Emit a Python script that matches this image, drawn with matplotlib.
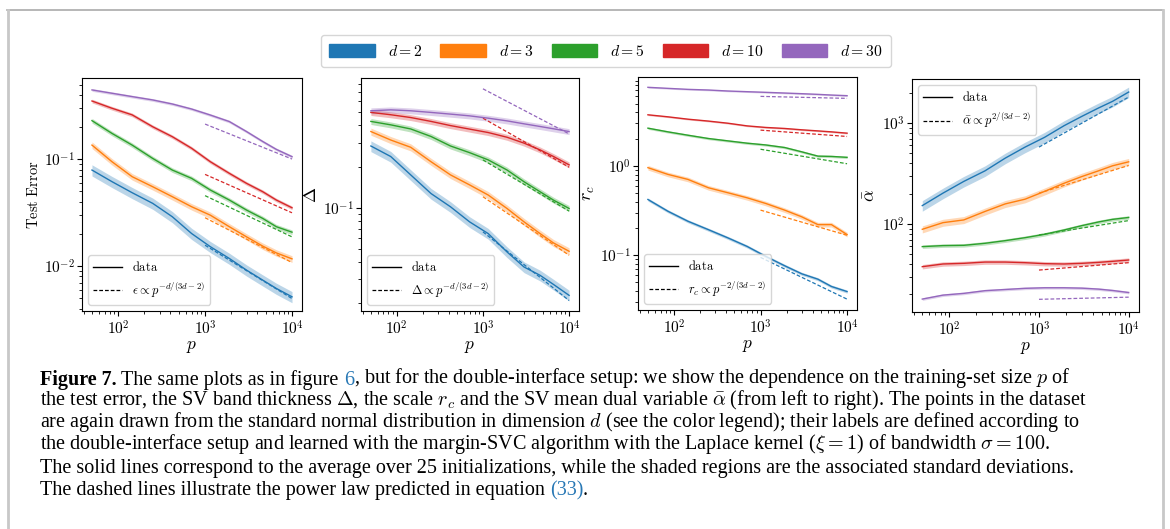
import numpy as np
import matplotlib.pyplot as plt
from matplotlib.lines import Line2D
from matplotlib.patches import Patch
from matplotlib.ticker import FuncFormatter, NullFormatter

plt.rcParams['mathtext.fontset'] = 'cm'
plt.rcParams['axes.unicode_minus'] = False

###############################################################################
# DATA
###############################################################################

p = [50, 85, 145, 250, 420, 700, 1150, 1900, 3000, 4600, 6600, 10000]
p_fit = [1000, 10000]
dims = [2, 3, 5, 10, 30]
colors = ['#1f77b4', '#ff7f0e', '#2ca02c', '#d62728', '#9467bd']

# test error, one row per d
test_error = [
    [0.0794, 0.0618, 0.0487, 0.0387, 0.029, 0.0202, 0.0152, 0.0118, 0.00917, 0.0074, 0.00618, 0.00516],
    [0.136, 0.095, 0.0688, 0.0554, 0.0447, 0.036, 0.030, 0.0234, 0.0188, 0.0154, 0.0133, 0.0117],
    [0.2304, 0.175, 0.136, 0.102, 0.0794, 0.0664, 0.0516, 0.0416, 0.0335, 0.028, 0.0234, 0.0208],
    [0.352, 0.301, 0.261, 0.202, 0.163, 0.127, 0.095, 0.074, 0.0596, 0.0498, 0.0416, 0.0352],
    [0.447, 0.416, 0.387, 0.360, 0.330, 0.296, 0.260, 0.226, 0.182, 0.147, 0.124, 0.106],
]
test_error_std = [0.12, 0.07, 0.05, 0.04, 0.03]
test_error_fit = [[0.0157, 0.00497], [0.0284, 0.0108], [0.0457, 0.0188], [0.0723, 0.0316], [0.214, 0.1007]]

# SV band thickness
delta = [
    [0.283, 0.237, 0.174, 0.127, 0.1017, 0.0789, 0.0648, 0.0476, 0.0369, 0.0321, 0.0275, 0.0229],
    [0.361, 0.313, 0.277, 0.217, 0.174, 0.147, 0.124, 0.0989, 0.0789, 0.0648, 0.0553, 0.0481],
    [0.428, 0.404, 0.377, 0.332, 0.283, 0.253, 0.224, 0.189, 0.155, 0.131, 0.1137, 0.0989],
    [0.498, 0.479, 0.457, 0.428, 0.399, 0.376, 0.355, 0.328, 0.297, 0.265, 0.237, 0.206],
    [0.512, 0.52, 0.512, 0.498, 0.484, 0.470, 0.452, 0.432, 0.411, 0.393, 0.378, 0.361],
]
delta_std = [0.09, 0.06, 0.05, 0.05, 0.05]
delta_fit = [[0.0667, 0.021], [0.1205, 0.045], [0.224, 0.0946], [0.452, 0.198], [0.741, 0.347]]

# scale r_c
r_c = [
    [0.422, 0.312, 0.241, 0.194, 0.157, 0.126, 0.0975, 0.0766, 0.0622, 0.0542, 0.0449, 0.0394],
    [0.958, 0.806, 0.708, 0.571, 0.502, 0.441, 0.381, 0.321, 0.270, 0.221, 0.221, 0.171],
    [2.65, 2.41, 2.21, 2.03, 1.91, 1.80, 1.72, 1.61, 1.44, 1.29, 1.28, 1.25],
    [3.74, 3.55, 3.34, 3.18, 3.01, 2.81, 2.70, 2.63, 2.54, 2.47, 2.41, 2.33],
    [7.59, 7.39, 7.2, 7.08, 6.9, 6.78, 6.67, 6.55, 6.44, 6.33, 6.22, 6.12],
]
r_c_std = [0.04, 0.06, 0.03, 0.02, 0.02]
r_c_fit = [[0.095, 0.0324], [0.321, 0.168], [1.54, 1.06], [2.52, 2.14], [6.01, 5.71]]

# SV mean dual variable
alpha_bar = [
    [152, 202, 264, 336, 449, 578, 721, 941, 1165, 1410, 1641, 2031],
    [88.5, 103, 109.6, 133, 158, 176, 210, 253, 295, 336, 377, 413],
    [59.6, 61, 61.4, 64.3, 68.3, 73.1, 78.9, 87.1, 96.2, 104.6, 111, 116],
    [37.7, 40.1, 40.7, 41.9, 41.9, 41.3, 40.4, 40.1, 40.7, 41.6, 42.6, 43.9],
    [18.0, 19.7, 20.5, 21.8, 22.4, 23.0, 23.3, 23.3, 23.1, 22.6, 21.9, 20.9],
]
alpha_bar_std = [0.12, 0.08, 0.04, 0.05, 0.03]
alpha_bar_fit = [[578, 1811], [202, 380], [77.8, 108], [34.9, 41.3], [17.9, 18.8]]

###############################################################################
# FIGURE
###############################################################################

fig = plt.figure(figsize=(11.7, 5.29), dpi=100)

# background axes for frame + caption
cap = fig.add_axes([0, 0, 1, 1], zorder=-1)
cap.set_xlim(0, 1)
cap.set_ylim(0, 1)
cap.axis('off')
H = 529.0
W = 1170.0
cap.plot([7 / W, 1163 / W], [1 - 9.5 / H, 1 - 9.5 / H], color='#aaaaaa', lw=1.2)
cap.plot([7.5 / W, 7.5 / W], [0, 1 - 9.5 / H], color='#c8c8c8', lw=2.0)
cap.plot([1163 / W, 1163 / W], [0, 1 - 9.5 / H], color='#c8c8c8', lw=2.0)

panels = [
    ([82, 302, 78, 311], test_error, test_error_std, test_error_fit,
     r'$\mathrm{Test\ Error}$', 10.5, r'$\epsilon \propto p^{-d/(3d-2)}$', 'lower left', (0.0038, 0.578)),
    ([361, 579, 78, 311], delta, delta_std, delta_fit,
     r'$\Delta$', 13, r'$\Delta \propto p^{-d/(3d-2)}$', 'lower left', (0.0176, 0.889)),
    ([638, 857, 77, 310], r_c, r_c_std, r_c_fit,
     r'$r_c$', 13, r'$r_c \propto p^{-2/(3d-2)}$', 'lower left', (0.0245, 9.9)),
    ([912, 1139, 79, 312], alpha_bar, alpha_bar_std, alpha_bar_fit,
     r'$\bar{\alpha}$', 13, r'$\bar{\alpha} \propto p^{2/(3d-2)}$', 'upper left', (13.4, 2735)),
]

fmt = FuncFormatter(lambda v, pos: r'$10^{%d}$' % int(round(np.log10(v))))

for box, vals, std, fit, ylab, ylab_fs, fitlab, loc, ylim in panels:
    x0, x1, y0, y1 = box
    ax = fig.add_axes([x0 / W, 1 - y1 / H, (x1 - x0) / W, (y1 - y0) / H])
    for i, d in enumerate(dims):
        v = np.array(vals[i])
        ax.fill_between(p, v * (1 - std[i]), v * (1 + std[i]), color=colors[i], alpha=0.3, lw=0)
        ax.plot(p, v, color=colors[i], lw=1.0)
        ax.plot(p_fit, fit[i], color=colors[i], lw=0.9, ls='--', dashes=(3, 1.6))
    ax.set_xscale('log')
    ax.set_yscale('log')
    ax.set_xlim(38.4, 13030)
    ax.set_ylim(*ylim)
    ax.xaxis.set_major_formatter(fmt)
    ax.yaxis.set_major_formatter(fmt)
    ax.xaxis.set_minor_formatter(NullFormatter())
    ax.yaxis.set_minor_formatter(NullFormatter())
    ax.tick_params(labelsize=11, pad=2.5)
    ax.tick_params(axis='y', pad=1.5)
    ax.set_xlabel(r'$p$', fontsize=12.5, labelpad=0)
    ax.set_ylabel(ylab, fontsize=ylab_fs, labelpad=2)
    handles = [Line2D([], [], color='k', lw=1.0),
               Line2D([], [], color='k', lw=0.9, ls='--', dashes=(3, 1.6))]
    ax.legend(handles, [r'$\mathrm{data}$', fitlab], loc=loc, fontsize=9, handlelength=2.3)

# color legend
leg_handles = [Patch(color=c) for c in colors]
leg_labels = [r'$d=%d$' % d for d in dims]
fig.legend(leg_handles, leg_labels, loc='center', bbox_to_anchor=(0.518, 0.903), ncol=5,
           fontsize=11.3, handlelength=2.9, handleheight=0.9, columnspacing=1.15,
           handletextpad=0.8, borderpad=0.55)

###############################################################################
# CAPTION
###############################################################################

cfs = 14.5
cfam = 'Liberation Serif'
link = '#2878b5'
sp = 3.5  # space width in points
x_cap = 40 / W
bottoms = [390, 412, 434, 456, 478, 500]


def caption_line(y, parts):
    t = cap.text(x_cap, 1 - y / H, parts[0][0], fontsize=cfs, family=cfam,
                 va='bottom', **parts[0][1])
    for s, kw, gap in parts[1:]:
        t = cap.annotate(s, xy=(1, 0), xycoords=t, xytext=(gap, 0), textcoords='offset points',
                         va='bottom', fontsize=cfs, family=cfam, **kw)


caption_line(bottoms[0], [
    ('Figure 7.', {'weight': 'bold'}),
    ('The same plots as in figure', {}, sp),
    ('6', {'color': link}, sp),
    (', but for the double-interface setup: we show the dependence on the training-set size $p$ of', {}, 0),
])
caption_line(bottoms[1], [
    (r'the test error, the SV band thickness $\Delta$, the scale $r_c$ and the SV mean dual variable '
     r'$\bar{\alpha}$ (from left to right). The points in the dataset', {}),
])
caption_line(bottoms[2], [
    (r'are again drawn from the standard normal distribution in dimension $d$ (see the color legend); '
     r'their labels are defined according to', {}),
])
caption_line(bottoms[3], [
    (r'the double-interface setup and learned with the margin-SVC algorithm with the Laplace kernel '
     r'($\xi = 1$) of bandwidth $\sigma = 100$.', {}),
])
caption_line(bottoms[4], [
    ('The solid lines correspond to the average over 25 initializations, while the shaded regions '
     'are the associated standard deviations.', {}),
])
caption_line(bottoms[5], [
    ('The dashed lines illustrate the power law predicted in equation', {}),
    ('(33)', {'color': link}, sp),
    ('.', {}, 0),
])

fig.savefig('out.png', dpi=100)
